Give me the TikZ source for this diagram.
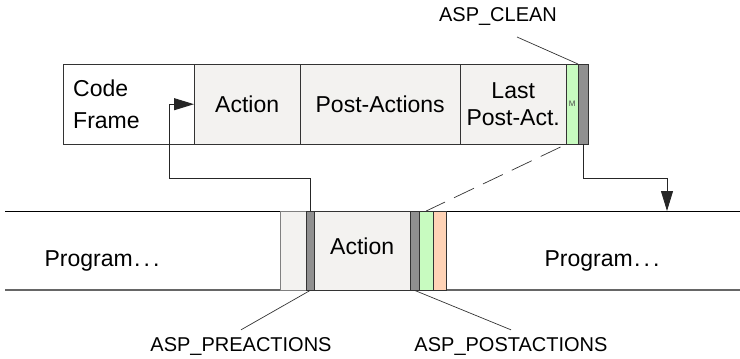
\documentclass[tikz,border=0pt]{standalone}
\usepackage{fontspec}
\setmainfont{Liberation Sans}
\usetikzlibrary{arrows.meta}
\usetikzlibrary{calc}

\definecolor{cellfill}{HTML}{F3F2F0}
\definecolor{bargray}{HTML}{909090}
\definecolor{mgreen}{HTML}{C8FBC0}
\definecolor{morange}{HTML}{FFD3B6}

\newcommand{\progdots}{Program\kern1.5pt.\kern3pt.\kern3pt.}

\tikzset{
 cell/.style={draw=black!80, fill=cellfill, anchor=north west, inner sep=0pt,
   minimum height=80pt, align=center, font=\fontsize{23}{27}\selectfont},
 slot/.style={cell, minimum height=79pt},
 lbl/.style={inner sep=8pt, font=\fontsize{20}{24}\selectfont},
 arr/.style={draw=black!85, line width=0.9pt, -{Triangle[length=20pt,width=12pt]}},
 lead/.style={draw=black!80, line width=0.7pt},
}

\begin{document}
\begin{tikzpicture}[x=1pt, y=-1pt]
\useasboundingbox (0,0) rectangle (740,359);

% code frame
\node[cell, fill=white, minimum width=131pt, text width=111pt, inner xsep=10pt, align=left,
  font=\fontsize{23}{32}\selectfont] (code) at (63,64) {Code\\Frame};
\node[cell, minimum width=106pt] (act) at (194,64) {Action};
\node[cell, minimum width=160pt] (post) at (300,64) {Post-Actions};
\node[cell, minimum width=106pt] (last) at (460,64) {Last\\Post-Act.};
\node[cell, fill=mgreen, minimum width=12pt, font=\fontsize{8}{8}\selectfont, text=black!70] (mtop) at (566,64) {M};
\node[cell, fill=bargray, minimum width=10pt] (cgray) at (578,64) {};

% program band
\draw[black, line width=0.9pt] (5,211) -- (740,211);
\draw[black!60, line width=1.6pt] (5,290) -- (740,290);
\node[slot, draw=black!50, minimum width=26pt] (pre) at (280,211) {};
\node[slot, fill=bargray, minimum width=8pt] (pregray) at (306,211) {};
\node[slot, minimum width=96pt, text depth=9pt] (bact) at (314,211) {Action};
\node[slot, fill=bargray, minimum width=9pt] (postgray) at (410,211) {};
\node[slot, fill=mgreen, minimum width=14pt] (mbot) at (419,211) {};
\node[slot, fill=morange, minimum width=13pt] (obot) at (433,211) {};
\node[font=\fontsize{23}{27}\selectfont] (prog1) at (102,260.5) {\progdots};
\node[font=\fontsize{23}{27}\selectfont] (prog2) at (602,260.5) {\progdots};

% labels
\node[lbl] (clean) at (498,17) {ASP\_CLEAN};
\node[lbl] (prelbl) at (241,347) {ASP\_PREACTIONS};
\node[lbl] (postlbl) at (511,347) {ASP\_POSTACTIONS};
\coordinate (cleanend) at (517,37);

% connectors
\coordinate (elbow) at (169,178);
\coordinate (bend) at (667,178);
\coordinate (landing) at (667,211);
\draw[arr] (pregray.north) |- (elbow) |- (act.west);
\draw[arr] (cgray.south) |- (bend) -- (landing);
\draw[lead, dash pattern=on 22pt off 10pt, shorten <=6pt] (mtop.south west) -- (mbot.north);
\draw[lead] (cleanend) -- (cgray.north west);
\draw[lead] (pregray.south) -- (prelbl.north);
\draw[lead] (postgray.south) -- (postlbl.north);
\end{tikzpicture}
\end{document}
